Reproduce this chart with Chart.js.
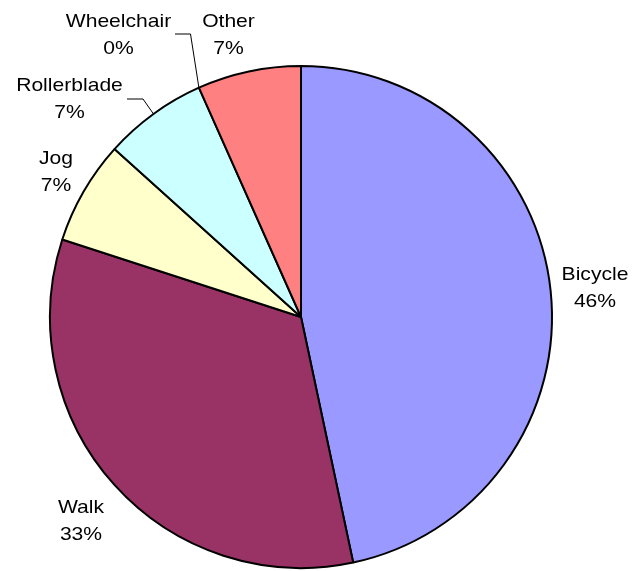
<!DOCTYPE html>
<html>
<head>
<meta charset="utf-8">
<script src="https://cdn.jsdelivr.net/npm/chart.js@4.4.1/dist/chart.umd.min.js"></script>
<style>
  html, body { margin: 0; padding: 0; background: #fff; }
  #wrap { width: 634px; height: 571px; position: relative; }
</style>
</head>
<body>
<div id="wrap"><canvas id="c"></canvas></div>
<script>
const modes = ['Bicycle', 'Walk', 'Jog', 'Rollerblade', 'Wheelchair', 'Other'];
const counts = [7, 5, 1, 1, 0, 1];
// percentage labels as printed on the original (they were rounded to sum to 100)
const pctLabels = ['46%', '33%', '7%', '7%', '0%', '7%'];
const sliceColors = ['#9999FF', '#993366', '#FFFFCC', '#CCFFFF', '#660066', '#FF8080'];

// where each label sits, relative to the pie centre (px)
const labelOffsets = [[294, -31], [-220, 202], [-245, -147], [-231.5, -219.5], [-182.5, -284], [-72.5, -284]];
// leader lines: elbow / end x relative to label centre, y shift
const leaders = { 3: { elbow: 73.5, end: 57.5, dy: 1.5 }, 4: { elbow: 72, end: 56.5, dy: 1 } };

const outsideLabels = {
    id: 'outsideLabels',
    afterDraw(chart) {
        const ctx = chart.ctx;
        const meta = chart.getDatasetMeta(0);
        ctx.save();
        meta.data.forEach((arc, i) => {
            const p = arc.getProps(['x', 'y', 'startAngle', 'endAngle', 'outerRadius'], true);
            const mid = (p.startAngle + p.endAngle) / 2;
            const ax = p.x + Math.cos(mid) * p.outerRadius;
            const ay = p.y + Math.sin(mid) * p.outerRadius;
            const lx = p.x + labelOffsets[i][0];
            const ly = p.y + labelOffsets[i][1];

            const ld = leaders[i];
            if (ld) {
                ctx.strokeStyle = '#000';
                ctx.lineWidth = 1;
                ctx.beginPath();
                ctx.moveTo(ax, ay);
                ctx.lineTo(lx + ld.elbow, ly + ld.dy);
                ctx.lineTo(lx + ld.end, ly + ld.dy);
                ctx.stroke();
            }

            ctx.save();
            ctx.translate(lx, ly);
            ctx.scale(1.11, 1);
            ctx.fillStyle = '#000';
            ctx.font = '19px "Liberation Sans", Arial, sans-serif';
            ctx.textAlign = 'center';
            ctx.textBaseline = 'alphabetic';
            ctx.fillText(modes[i], 0, -6.5);
            ctx.fillText(pctLabels[i], 0, 20.5);
            ctx.restore();
        });
        ctx.restore();
    }
};

new Chart(document.getElementById('c'), {
    type: 'pie',
    data: {
        labels: modes,
        datasets: [{
            data: counts,
            backgroundColor: sliceColors,
            borderColor: '#000',
            borderWidth: 2
        }]
    },
    options: {
        responsive: true,
        maintainAspectRatio: false,
        animation: false,
        layout: { padding: { left: 49, right: 81, top: 65, bottom: 2 } },
        plugins: {
            legend: { display: false },
            tooltip: { enabled: false }
        }
    },
    plugins: [outsideLabels]
});
</script>
</body>
</html>
